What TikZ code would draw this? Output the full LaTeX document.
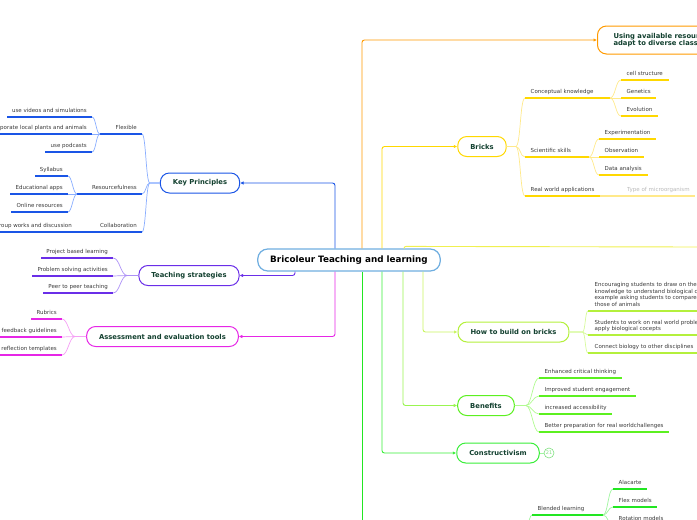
\documentclass[tikz,border=0pt]{standalone}
\usepackage{fontspec}
\setmainfont{DejaVu Sans}
\usetikzlibrary{arrows.meta,calc}
\definecolor{lbl}{HTML}{12402F}
\definecolor{leaf}{HTML}{3A3A3A}
\definecolor{rootc}{HTML}{6FAEE0}
\definecolor{kpc}{HTML}{1A55E6}
\definecolor{kpl}{HTML}{8AAEFF}
\definecolor{tsc}{HTML}{6A2EE8}
\definecolor{tsl}{HTML}{AC90F6}
\definecolor{aec}{HTML}{E626E6}
\definecolor{ael}{HTML}{F5A0F5}
\definecolor{orc}{HTML}{FF9A00}
\definecolor{brc}{HTML}{FFD800}
\definecolor{brl}{HTML}{FFE98A}
\definecolor{yel}{HTML}{F0F050}
\definecolor{hbc}{HTML}{B4F03C}
\definecolor{hbline}{HTML}{C8F560}
\definecolor{hbl}{HTML}{D6FA9A}
\definecolor{bnc}{HTML}{5CF020}
\definecolor{bnline}{HTML}{99F550}
\definecolor{bnl}{HTML}{B0FA90}
\definecolor{cnc}{HTML}{3AEE3A}
\definecolor{gnc}{HTML}{22E622}
\definecolor{gnl}{HTML}{A0F5A0}
\definecolor{c21c}{HTML}{7FE07F}
\begin{document}
\begin{tikzpicture}[x=1pt,y=-1pt,
  topic/.style={draw, fill=white, line width=1pt, rounded corners=9pt, minimum height=20pt, inner xsep=12.5pt, inner ysep=0pt, font=\bfseries\fontsize{6.8}{8}\selectfont, text=lbl},
  rootnode/.style={topic, draw=rootc, line width=1.2pt, minimum height=22pt, rounded corners=10pt, font=\bfseries\fontsize{8.8}{10}\selectfont, text=black},
  leafr/.style={inner xsep=5.5pt, inner ysep=2.8pt, text height=4pt, text depth=1.5pt, font=\fontsize{5.5}{6.6}\selectfont, text=leaf, anchor=south west},
  leafl/.style={leafr, inner xsep=5pt, anchor=south east},
  leafm/.style={inner xsep=6.5pt, font=\fontsize{5.5}{6.5}\selectfont, text=leaf, anchor=south west, align=left},
  conn/.style={line width=0.9pt, rounded corners=2.5pt, -{Latex[length=3.5pt,width=3.5pt]}},
  ul/.style={line width=1.3pt},
  cv/.style={line width=0.7pt},
]
\useasboundingbox (0,0) rectangle (697,520);

% root
\node[rootnode] (root) at (349,260) {Bricoleur Teaching and learning};

% topics
\node[topic, draw=kpc] (kp) at (200,183) {Key Principles};
\node[topic, draw=tsc] (ts) at (189,275.5) {Teaching strategies};
\node[topic, draw=aec] (ae) at (162.5,336.5) {Assessment and evaluation tools};
\node[topic, draw=orc, anchor=west, minimum height=28pt, align=left, inner xsep=16pt, font=\bfseries\fontsize{6.8}{7.2}\selectfont] (ua) at (597,40) {Using available resources to\\adapt to diverse classrooms};
\node[topic, draw=brc] (br) at (482,146.5) {Bricks};
\node[topic, draw=hbc] (hb) at (513.5,332) {How to build on bricks};
\node[topic, draw=bnc] (bn) at (486,405.5) {Benefits};
\node[topic, draw=cnc] (cn) at (498,453) {Constructivism};
\node[circle, draw=c21c, line width=0.6pt, inner sep=0pt, minimum size=10pt, font=\fontsize{5}{6}\selectfont, text=c21c] (c21) at (549,453) {21};
\draw[gnl, line width=0.8pt] (cn.east) -- (c21.west);

% helper coordinates
\coordinate (x295) at (295,0);
\coordinate (x335) at (335,0);
\coordinate (x362) at (362,0);
\coordinate (x382) at (382,0);
\coordinate (x403) at (403,0);
\coordinate (x404) at (404,0);
\coordinate (x423) at (423,0);
\coordinate (yelE) at (700,247);
\coordinate (gEnd) at (362,525);

% main connectors
\draw[conn, kpc] (root.north -| x335) |- (kp.east);
\draw[conn, tsc] (root.south -| x295) |- (ts.east);
\draw[conn, aec] (root.south -| x335) |- (ae.east);
\draw[conn, orc] (root.north -| x362) |- (ua.west);
\draw[conn, brc] (root.north -| x382) |- (br.west);
\draw[yel, line width=0.9pt, rounded corners=2pt] (root.north -| x404) -- ++(0,-2) -- (yelE);
\draw[conn, hbline] (root.south -| x423) |- (hb.west);
\draw[conn, bnline] (root.south -| x403) |- (bn.west);
\draw[conn, cnc] (root.south -| x382) |- (cn.west);
\draw[gnc, line width=0.9pt] (root.south -| x362) -- (gEnd);

% ---------- Key Principles ----------
\node[leafl] (fl) at (142,134) {Flexible};
\node[leafl] (rs) at (142,194) {Resourcefulness};
\node[leafl] (co) at (142,232) {Collaboration};
\coordinate (flB) at (100,134);
\coordinate (rsB) at (77,194);
\foreach \n in {fl,rs,co}
  \draw[cv,kpl] (kp.west) -- ++(-10,0) .. controls +(-4,0) and +(4,0) .. (\n.south east);
\draw[ul,kpc] (fl.south east) -- (flB);
\draw[ul,kpc] (rs.south east) -- (rsB);
\node[leafl] (uv) at (92,117) {use videos and simulations};
\node[leafl] (il) at (92,134) {Incorporate local plants and animals};
\node[leafl] (up) at (92,152) {use podcasts};
\foreach \n in {uv,il,up}{
  \draw[cv,kpl] (flB) .. controls +(-4,0) and +(4,0) .. (\n.south east);
  \draw[ul,kpc] (\n.south east) -- (\n.south west);}
\node[leafl] (sy) at (68,176) {Syllabus};
\node[leafl] (ea) at (68,194) {Educational apps};
\node[leafl] (on) at (68,212) {Online resources};
\foreach \n in {sy,ea,on}{
  \draw[cv,kpl] (rsB) .. controls +(-4,0) and +(4,0) .. (\n.south east);
  \draw[ul,kpc] (\n.south east) -- (\n.south west);}
\node[leafl] (gw) at (77,232) {Group works and discussion};
\draw[ul,kpc] (co.south east) -- (gw.south east) -- (gw.south west);

% ---------- Teaching strategies ----------
\node[leafl] (pb) at (113,258) {Project based learning};
\node[leafl] (ps) at (113,276) {Problem solving activities};
\node[leafl] (pp) at (113,293) {Peer to peer teaching};
\foreach \n in {pb,ps,pp}{
  \draw[cv,tsl] (ts.west) -- ++(-11,0) .. controls +(-7,0) and +(7,0) .. (\n.south east);
  \draw[ul,tsc] (\n.south east) -- (\n.south west);}

% ---------- Assessment ----------
\node[leafl] (rb) at (62,319) {Rubrics};
\node[leafl] (fg) at (62,337) {Oral feedback guidelines};
\node[leafl] (rt) at (62,355) {Self reflection templates};
\foreach \n in {rb,fg,rt}{
  \draw[cv,ael] (ae.west) -- ++(-11,0) .. controls +(-6,0) and +(6,0) .. (\n.south east);
  \draw[ul,aec] (\n.south east) -- (\n.south west);}

% ---------- Bricks ----------
\node[leafr] (ck) at (525,98) {Conceptual knowledge};
\node[leafr] (sk) at (525,157) {Scientific skills};
\node[leafr] (rw) at (525,196) {Real world applications};
\coordinate (ckB) at (610,98);
\coordinate (skB) at (589,157);
\foreach \n in {ck,sk,rw}
  \draw[cv,brl] (br.east) -- ++(9,0) .. controls +(5,0) and +(-5,0) .. (\n.south west);
\draw[ul,brc] (ck.south west) -- (ckB);
\draw[ul,brc] (sk.south west) -- (skB);
\draw[ul,brc] (rw.south west) -- (rw.south east);
\node[leafr] (cs) at (621,80) {cell structure};
\node[leafr] (ge) at (621,98) {Genetics};
\node[leafr] (ev) at (621,116) {Evolution};
\foreach \n in {cs,ge,ev}{
  \draw[cv,brl] (ckB) .. controls +(5.5,0) and +(-5.5,0) .. (\n.south west);
  \draw[ul,brc] (\n.south west) -- (\n.south east);}
\node[leafr] (ex) at (599,139) {Experimentation};
\node[leafr] (ob) at (599,157) {Observation};
\node[leafr] (da) at (599,175) {Data analysis};
\foreach \n in {ex,ob,da}{
  \draw[cv,brl] (skB) .. controls +(5,0) and +(-5,0) .. (\n.south west);
  \draw[ul,brc] (\n.south west) -- (\n.south east);}
\node[leafr, text=gray!55] (tm) at (621.5,196) {Type of microorganism};
\draw[ul,brl] (rw.south east) -- (tm.south west) -- (tm.south east);

% ---------- How to build on bricks ----------
\node[leafm, inner ysep=4.3pt] (e1) at (588,311) {Encouraging students to draw on their prior\\knowledge to understand biological concepts, for\\example asking students to compare plant cells to\\those of animals};
\node[leafm, inner ysep=3.1pt] (e2) at (588,335) {Students to work on real world problems and\\apply biological cocepts};
\node[leafr, inner xsep=6.5pt] (e3) at (588,353) {Connect biology to other disciplines};
\foreach \n in {e1,e2,e3}{
  \draw[cv,hbl] (hb.east) -- ++(13,0) .. controls +(3,0) and +(-3,0) .. (\n.south west);
  \draw[ul,hbc] (\n.south west) -- (\n.south east);}

% ---------- Benefits ----------
\node[leafr] (b1) at (539,378) {Enhanced critical thinking};
\node[leafr] (b2) at (539,396) {Improved student engagement};
\node[leafr] (b3) at (539,414) {increased accessibility};
\node[leafr] (b4) at (539,432) {Better preparation for real worldchallenges};
\foreach \n in {b1,b2,b3,b4}{
  \draw[cv,bnl] (bn.east) -- ++(11,0) .. controls +(6,0) and +(-6,0) .. (\n.south west);
  \draw[ul,bnc] (\n.south west) -- (\n.south east);}

% ---------- Blended learning ----------
\node[leafr] (bl) at (532,515) {Blended learning};
\coordinate (blB) at (603,515);
\coordinate (blP) at (522,545);
\draw[cv,gnl] (blP) .. controls +(4,0) and +(-4,0) .. (bl.south west);
\draw[ul,gnc] (bl.south west) -- (blB);
\node[leafr] (al) at (613,489) {Alacarte};
\node[leafr] (fm) at (613,507) {Flex models};
\node[leafr] (rm) at (613,525) {Rotation models};
\foreach \n in {al,fm,rm}{
  \draw[cv,gnl] (blB) .. controls +(5,0) and +(-5,0) .. (\n.south west);
  \draw[ul,gnc] (\n.south west) -- (\n.south east);}
\end{tikzpicture}
\end{document}
